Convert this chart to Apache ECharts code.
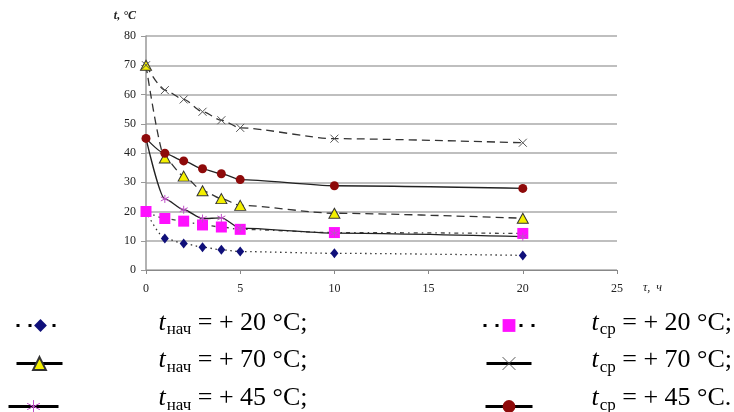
<!DOCTYPE html>
<html><head><meta charset="utf-8">
<script src="https://cdn.jsdelivr.net/npm/echarts@6/dist/echarts.min.js"></script>
<style>html,body{margin:0;padding:0;background:#fff}#c{width:734px;height:412px}</style>
</head><body><div id="c"></div>
<script>
var hours = [0, 1, 2, 3, 4, 5, 10, 20];
var startT20 = [20, 10.8, 9.1, 7.8, 6.9, 6.3, 5.7, 5.0];
var mediumT20 = [20, 17.6, 16.7, 15.4, 14.7, 13.9, 12.8, 12.5];
var startT70 = [70, 38.3, 32.1, 27.1, 24.4, 22.1, 19.4, 17.7];
var mediumT70 = [70, 61.5, 58.3, 54.1, 51.2, 48.6, 44.9, 43.5];
var startT45 = [45, 24.3, 20.6, 17.6, 17.8, 14.3, 12.6, 11.4];
var mediumT45 = [45, 39.9, 37.3, 34.6, 32.9, 30.9, 28.8, 27.9];
var yTicks = [0, 10, 20, 30, 40, 50, 60, 70, 80];
var xTicks = [0, 5, 10, 15, 20, 25];
var legendSub = ['нач', 'ср', 'нач', 'ср', 'нач', 'ср'];
var legendTemp = ['20', '20', '70', '70', '45', '45'];
var legendEnd = [';', ';', ';', ';', ';', '.'];

function pairs(v){ return hours.map(function(h,i){ return [h, v[i]]; }); }

var serif = '"Liberation Serif","DejaVu Serif",serif';
var chart = echarts.init(document.getElementById('c'));

var names = ['s20n','s20c','s70n','s70c','s45n','s45c'];

var crossPath = 'path://M0,0L10,10M10,0L0,10';
var starPath = 'path://M5,0L5,10M0,2.5L10,7.5M0,7.5L10,2.5';

var series = [
  {data:pairs(startT20), symbol:'diamond', symbolSize:[8,10],
   itemStyle:{color:'#10107a'}, lineStyle:{color:'#333', width:1.3, type:[1.5,3.5]}},
  {data:pairs(mediumT20), symbol:'rect', symbolSize:11,
   itemStyle:{color:'#ff10ff'}, lineStyle:{color:'#444', width:1.3, type:[4,4,1.5,4]}},
  {data:pairs(startT70), symbol:'triangle', symbolSize:[11,10],
   itemStyle:{color:'#f4f000', borderColor:'#333', borderWidth:1}, lineStyle:{color:'#333', width:1.3, type:[8,5]}},
  {data:pairs(mediumT70), symbol:crossPath, symbolSize:8,
   itemStyle:{color:'rgba(0,0,0,0)', borderColor:'#555', borderWidth:1}, lineStyle:{color:'#333', width:1.3, type:[8,5]}},
  {data:pairs(startT45), symbol:starPath, symbolSize:8,
   itemStyle:{color:'rgba(0,0,0,0)', borderColor:'#c050c8', borderWidth:1}, lineStyle:{color:'#222', width:1.3}},
  {data:pairs(mediumT45), symbol:'circle', symbolSize:9,
   itemStyle:{color:'#8e0a0a'}, lineStyle:{color:'#222', width:1.3}}
].map(function(s, i){
  s.name = names[i];
  s.type='line'; s.smooth=0.25; s.smoothMonotone='x'; s.showAllSymbol=true; s.animation=false;
  return s;
});
series[0].z = 2; series[1].z = 3;

// legend placement: left, item width, spacer, text centre y, icon offset below text, line type
var legendPos = [
  {left:15,  w:48, gap:89, ty:320.5, s:2.5, lt:[3,9]},
  {left:482, w:51, gap:52, ty:320.5, s:2.5, lt:[3,9]},
  {left:15,  w:46, gap:91, ty:358,   s:3,   lt:'solid'},
  {left:485, w:45, gap:55, ty:358,   s:3,   lt:'solid'},
  {left:7,   w:50, gap:95, ty:396,   s:8,   lt:'solid'},
  {left:484, w:47, gap:54, ty:396,   s:8,   lt:'solid'}
];

var legends = names.map(function(n, i){
  var p = legendPos[i];
  var txt = '{sp|}{t|t}{sub|' + legendSub[i] + '}{n| = + ' + legendTemp[i] + ' °C' + legendEnd[i] + '}';
  var lg = {
    data:[n], left:p.left, top:p.ty - 13, itemWidth:p.w, itemHeight:16, padding:0,
    selectedMode:false,
    lineStyle:{type:p.lt, width:3, color:'#000'},
    formatter:function(){ return txt; },
    textStyle:{
      rich:{
        sp:{width:p.gap, fontSize:20, lineHeight:30},
        t:{fontStyle:'italic', fontSize:26, lineHeight:30, fontFamily:serif, color:'#000', padding:[0,0,2*p.s,0]},
        sub:{fontSize:17, lineHeight:30, fontFamily:serif, color:'#000', padding:[14,0,2*p.s,1]},
        n:{fontSize:26, lineHeight:30, fontFamily:serif, color:'#000', padding:[0,0,2*p.s,0]}
      }
    }
  };
  if (n === 's70c' || n === 's45n') lg.itemStyle = {borderWidth:1};
  return lg;
});

chart.setOption({
  animation:false,
  backgroundColor:'#fff',
  grid:{left:146, right:117, top:36, bottom:142, containLabel:false},
  legend:legends,
  xAxis:{
    type:'value', min:xTicks[0], max:xTicks[xTicks.length-1], interval:5,
    name:'τ,  ч', nameLocation:'end', nameGap:26,
    nameTextStyle:{fontFamily:serif, fontStyle:'italic', fontSize:12, color:'#222', verticalAlign:'top', padding:[12,0,0,0]},
    axisLine:{lineStyle:{color:'#888', width:1.2}},
    axisTick:{show:true, length:4, lineStyle:{color:'#888'}},
    axisLabel:{fontFamily:serif, fontSize:12, color:'#222', margin:13},
    splitLine:{show:false}
  },
  yAxis:{
    type:'value', min:yTicks[0], max:yTicks[yTicks.length-1], interval:10,
    name:'t, °C', nameLocation:'end', nameGap:14,
    nameTextStyle:{fontFamily:serif, fontStyle:'italic', fontWeight:'bold', fontSize:12, color:'#222', align:'right', padding:[0,10,0,0]},
    axisLine:{show:true, lineStyle:{color:'#999', width:1.5}},
    axisTick:{show:true, length:5, lineStyle:{color:'#999'}},
    axisLabel:{fontFamily:serif, fontSize:12, color:'#222', margin:10},
    splitLine:{show:true, lineStyle:{color:'#aaa', width:1.5}}
  },
  series:series
});
</script></body></html>
